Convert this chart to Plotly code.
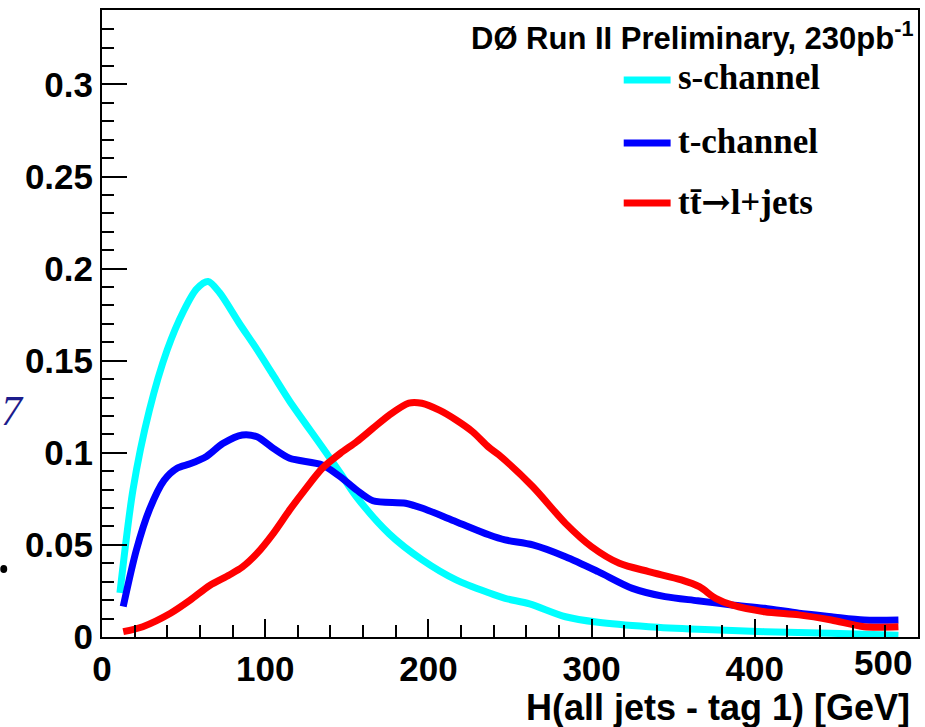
import plotly.graph_objects as go

# H(all jets - tag 1) distributions, normalised to unit area
s_x = [11, 19, 29, 40, 50, 58, 65, 72, 84, 95, 105, 115, 135, 146, 156, 176, 196,
       217, 237, 247, 262, 284, 304, 335, 365, 406, 447, 488]
s_y = [0.024, 0.080, 0.123, 0.156, 0.177, 0.189, 0.193, 0.187, 0.1705, 0.156, 0.142,
       0.128, 0.103, 0.089, 0.076, 0.056, 0.042, 0.031, 0.024, 0.021, 0.018, 0.011,
       0.008, 0.0056, 0.0042, 0.0029, 0.002, 0.001]

t_x = [13, 21, 29, 38, 46, 54, 64, 74, 86, 95, 105, 115, 135, 146, 156, 166, 186,
       196, 217, 237, 247, 264, 284, 304, 325, 345, 365, 386, 406, 427, 447, 467, 488]
t_y = [0.0165, 0.047, 0.069, 0.085, 0.0916, 0.094, 0.098, 0.105, 0.1097, 0.1087,
       0.1024, 0.097, 0.0934, 0.087, 0.0798, 0.074, 0.0726, 0.070, 0.0626, 0.0555,
       0.0527, 0.050, 0.0436, 0.0355, 0.0264, 0.0219, 0.0197, 0.0174, 0.0156, 0.0129,
       0.011, 0.0092, 0.0092]

r_x = [13, 25, 42, 54, 66, 78, 86, 95, 105, 115, 125, 135, 146, 156, 166, 176, 188,
       196, 207, 217, 227, 237, 243, 264, 284, 300, 317, 335, 355, 366, 376, 386, 406,
       427, 447, 467, 488]
r_y = [0.0029, 0.0056, 0.0129, 0.020, 0.028, 0.0337, 0.038, 0.0454, 0.0563, 0.069,
       0.0807, 0.0916, 0.0997, 0.106, 0.1133, 0.1205, 0.127, 0.1269, 0.123, 0.1178,
       0.1115, 0.103, 0.099, 0.0816, 0.0617, 0.049, 0.040, 0.0355, 0.031, 0.0273,
       0.021, 0.0174, 0.0137, 0.012, 0.0092, 0.0056, 0.0056]

series_names = ["s-channel", "t-channel", "tt\u0304\u2192l+jets"]
legend_labels = ["s-channel", "t-channel",
                 "tt\u0304<span style=\"font-family:'DejaVu Serif'\">\u2192</span>l+jets"]
series_colors = ["#00ffff", "#0000ff", "#ff0000"]

y_tickvals = [0, 0.05, 0.1, 0.15, 0.2, 0.25, 0.3]
y_ticktext = ["0", "0.05", "0.1", "0.15", "0.2", "0.25", "0.3"]
x_tickvals = [0, 100, 200, 300, 400]
x_ticktext = ["0", "100", "200", "300", "400"]

W, H = 925, 727
L, R, T, B = 102, 5, 10, 90
PW, PH = W - L - R, H - T - B


def px(x):
    return (x - L) / PW


def py(y):
    return (H - B - y) / PH


fig = go.Figure()
for xs, ys, name, col in zip([s_x, t_x, r_x], [s_y, t_y, r_y], series_names, series_colors):
    fig.add_trace(go.Scatter(
        x=xs, y=ys, mode="lines", name=name,
        line=dict(color=col, width=7, shape="spline", smoothing=0.8),
        showlegend=False,
    ))

tick_font = dict(family="Liberation Sans", size=35, color="black", weight="bold")

fig.update_layout(
    width=W, height=H,
    margin=dict(l=L, r=R, t=T, b=B),
    paper_bgcolor="white", plot_bgcolor="white",
    xaxis=dict(
        range=[0, 500], tickvals=x_tickvals, ticktext=x_ticktext,
        ticks="inside", ticklen=18, tickwidth=2, tickcolor="black",
        minor=dict(dtick=20, tick0=0, ticks="inside", ticklen=12, tickwidth=2, tickcolor="black"),
        showline=True, linecolor="black", linewidth=2, mirror=True,
        showgrid=False, zeroline=False, tickfont=tick_font,
    ),
    yaxis=dict(
        range=[0, 0.3404], tickvals=y_tickvals, ticktext=y_ticktext,
        ticks="inside", ticklen=25, tickwidth=2, tickcolor="black",
        minor=dict(dtick=0.01, tick0=0, ticks="inside", ticklen=12, tickwidth=2, tickcolor="black"),
        showline=True, linecolor="black", linewidth=2, mirror=True,
        showgrid=False, zeroline=False, tickfont=tick_font,
    ),
)

annotations = [
    # last x tick label, kept inside the canvas
    dict(x=px(885), y=py(662), xref="paper", yref="paper", text="500",
         showarrow=False, xanchor="center", yanchor="middle", font=tick_font),
    # axis title
    dict(x=px(914), y=py(707), xref="paper", yref="paper",
         text="H(all jets - tag 1) [GeV]", showarrow=False,
         xanchor="right", yanchor="middle",
         font=dict(family="Liberation Sans", size=36, color="black", weight="bold")),
    # header
    dict(x=px(918), y=py(36), xref="paper", yref="paper",
         text="DØ Run II Preliminary, 230pb<sup>-1</sup>", showarrow=False,
         xanchor="right", yanchor="middle",
         font=dict(family="Liberation Sans", size=31, color="black", weight="bold")),
    # clipped y-axis title fragment
    dict(x=px(12), y=py(411), xref="paper", yref="paper", text="7", showarrow=False,
         xanchor="center", yanchor="middle",
         font=dict(family="Liberation Serif", size=42, color="#1c1c8c", style="italic")),
]

legend_y = [80, 143, 203]
for label, col, ly in zip(legend_labels, series_colors, legend_y):
    fig.add_shape(type="line", xref="paper", yref="paper",
                  x0=px(625), x1=px(672), y0=py(ly), y1=py(ly),
                  line=dict(color=col, width=7))
    annotations.append(dict(
        x=px(677), y=py(ly - 2), xref="paper", yref="paper", text=label,
        showarrow=False, xanchor="left", yanchor="middle",
        font=dict(family="Liberation Serif", size=35, color="black", weight="bold")))

fig.add_shape(type="circle", xref="paper", yref="paper",
              x0=px(0), x1=px(7), y0=py(573), y1=py(565),
              fillcolor="black", line=dict(width=0))

fig.update_layout(annotations=annotations)

fig.write_html("out.html")
